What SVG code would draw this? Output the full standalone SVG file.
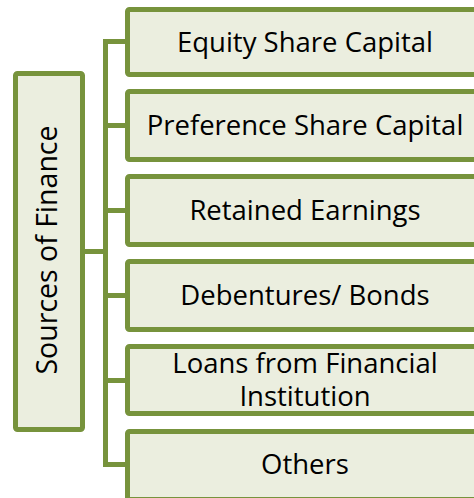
<svg xmlns="http://www.w3.org/2000/svg" width="474" height="498" viewBox="0 0 474 498">
<style>
.box{fill:#EBEEDF;stroke:#77933C;stroke-width:5;}
.conn{fill:none;stroke:#77933C;stroke-width:5;stroke-linejoin:miter;}
.t{font-family:"Open Sans","Noto Sans","Liberation Sans",sans-serif;font-size:27.5px;fill:#000;text-anchor:middle;}
</style>
<rect width="474" height="498" fill="#ffffff"/>
<g id="connectors">
<path class="conn" d="M127 41.5H105.5V464.5H127M105.5 125.5H127M105.5 210.5H127M105.5 295.5H127M105.5 380.5H127M85 251.5H105.5"/>
</g>
<g id="sources">
<rect class="box" x="15.5" y="73.5" width="67" height="356" rx="2"/>
<text class="t" style="font-size:28.5px" transform="translate(57 250) rotate(-90)">Sources of Finance</text>
</g>
<g id="equity">
<rect class="box" x="127.5" y="9.5" width="360" height="65" rx="2"/>
<text class="t" x="305" y="51.5">Equity Share Capital</text>
</g>
<g id="preference">
<rect class="box" x="127.5" y="91.5" width="360" height="68" rx="2"/>
<text class="t" x="305" y="135">Preference Share Capital</text>
</g>
<g id="retained">
<rect class="box" x="127.5" y="176.5" width="360" height="68" rx="2"/>
<text class="t" x="305" y="220">Retained Earnings</text>
</g>
<g id="debentures">
<rect class="box" x="127.5" y="261.5" width="360" height="68" rx="2"/>
<text class="t" x="305" y="305">Debentures/ Bonds</text>
</g>
<g id="loans">
<rect class="box" x="127.5" y="346.5" width="360" height="67" rx="2"/>
<text class="t" x="305" y="373"><tspan x="305" y="373">Loans from Financial</tspan><tspan x="305" y="406">Institution</tspan></text>
</g>
<g id="others">
<rect class="box" x="127.5" y="431.5" width="360" height="68" rx="2"/>
<text class="t" x="305" y="474">Others</text>
</g>
</svg>
